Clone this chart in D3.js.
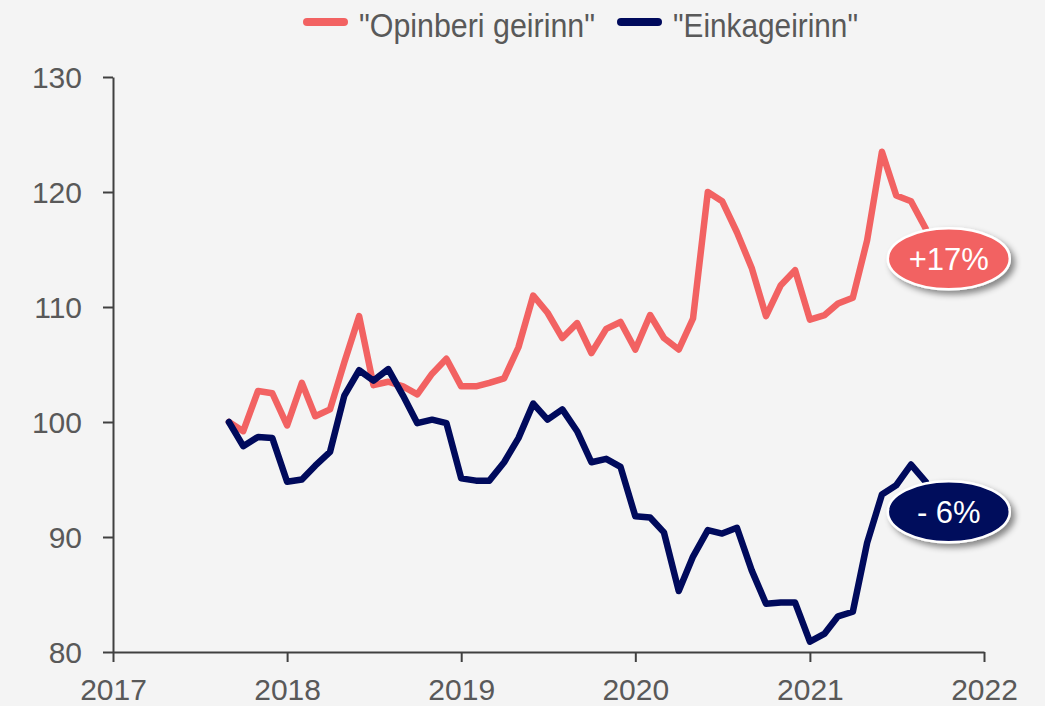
<!DOCTYPE html>
<html>
<head>
<meta charset="utf-8">
<script src="https://cdn.jsdelivr.net/npm/d3@7"></script>
<style>
  body { margin: 0; background: #f4f4f4; }
  svg { display: block; font-family: "Liberation Sans", Arial, sans-serif; }
</style>
</head>
<body>
<div id="chart"></div>
<script>
// monthly index values, Sep 2017 - Sep 2021 (Sep 2017 = 100)
var startYear = 2017
var startMonth = 8
var opinberi = [100.0, 99.2, 102.7, 102.5, 99.7, 103.4, 100.5, 101.1, 105.2, 109.2, 103.2, 103.5,
  103.1, 102.4, 104.2, 105.5, 103.1, 103.1, 103.4, 103.8, 106.5, 111.0, 109.5, 107.3,
  108.6, 106.0, 108.1, 108.7, 106.3, 109.3, 107.3, 106.3, 109.0, 120.0, 119.2, 116.5,
  113.4, 109.2, 111.9, 113.2, 108.9, 109.3, 110.3, 110.8, 115.8, 123.5, 119.7, 119.2, 116.8]
var einka = [100.0, 97.9, 98.7, 98.6, 94.8, 95.0, 96.2, 97.4, 102.3, 104.5, 103.6, 104.6,
  102.3, 99.9, 100.2, 99.9, 95.1, 94.9, 94.9, 96.5, 98.6, 101.6, 100.2, 101.1,
  99.2, 96.5, 96.8, 96.1, 91.8, 91.7, 90.4, 85.3, 88.3, 90.6, 90.3, 90.8,
  87.1, 84.2, 84.3, 84.3, 80.9, 81.6, 83.1, 83.5, 89.5, 93.7, 94.5, 96.3, 94.8]
var seriesNames = ['"Opinberi geirinn"', '"Einkageirinn"']
var seriesColors = ["#f26262", "#000a5c"]
var changeLabels = ["+17%", "- 6%"]
var yTicks = [80, 90, 100, 110, 120, 130]
var years = [2017, 2018, 2019, 2020, 2021, 2022]

var width = 1045
var height = 706

var svg = d3.select("#chart").append("svg")
    .attr("width", width)
    .attr("height", height)

svg.append("rect").attr("width", width).attr("height", height).attr("fill", "#f4f4f4")

var defs = svg.append("defs")
var f = defs.append("filter").attr("id", "shadow").attr("x", "-20%").attr("y", "-20%").attr("width", "150%").attr("height", "160%")
f.append("feDropShadow").attr("dx", 4).attr("dy", 4).attr("stdDeviation", 3)
  .attr("flood-color", "#000").attr("flood-opacity", 0.45)

var x = d3.scaleTime()
    .domain([new Date(years[0], 0, 1), new Date(years[years.length - 1], 0, 1)])
    .range([113, 984])
var y = d3.scaleLinear()
    .domain([80, 130])
    .range([652, 77])

function toPoints(vals) {
  return vals.map(function(v, i) {
    return { date: new Date(startYear, startMonth + i, 1), value: v }
  })
}
var series = [toPoints(opinberi), toPoints(einka)]

// axes
var yAxis = svg.append("g")
    .attr("transform", "translate(113,0)")
    .call(d3.axisLeft(y).tickValues(yTicks).tickSize(10).tickPadding(21).tickSizeOuter(0))
var xAxis = svg.append("g")
    .attr("transform", "translate(0,652)")
    .call(d3.axisBottom(x).tickValues(years.map(function(d){ return new Date(d, 0, 1) }))
      .tickFormat(d3.timeFormat("%Y")).tickSize(10).tickPadding(17).tickSizeOuter(0))

svg.selectAll(".domain, .tick line").attr("stroke", "#404040").attr("stroke-width", 2)
yAxis.selectAll("text").attr("font-size", 30).attr("fill", "#595959").attr("dy", "0.35em")
xAxis.selectAll("text").attr("font-size", 30).attr("fill", "#595959")
// x labels sit right at the bottom edge
xAxis.selectAll(".tick text").attr("y", 27).attr("dy", "0.71em")

var line = d3.line()
    .x(function(d) { return x(d.date) })
    .y(function(d) { return y(d.value) })

series.forEach(function(s, i) {
  svg.append("path")
    .datum(s)
    .attr("d", line)
    .attr("fill", "none")
    .attr("stroke", seriesColors[i])
    .attr("stroke-width", 6.5)
    .attr("stroke-linejoin", "round")
    .attr("stroke-linecap", "round")
})

// end labels
series.forEach(function(s, i) {
  var last = s[s.length - 1]
  var cx = x(last.date) + 23
  var cy = y(last.value) + 30
  var g = svg.append("g").attr("transform", "translate(" + cx + "," + cy + ")")
  g.append("ellipse")
    .attr("rx", 61).attr("ry", 30.5)
    .attr("fill", seriesColors[i])
    .attr("stroke", "#fff").attr("stroke-width", 2.5)
    .attr("filter", "url(#shadow)")
  g.append("text")
    .attr("text-anchor", "middle")
    .attr("dy", "0.36em")
    .attr("font-size", 31)
    .attr("fill", "#fff")
    .text(changeLabels[i])
})

// legend
var legendX = [303, 617]
var legendW = [236, 185]
seriesNames.forEach(function(n, i) {
  var lg = svg.append("g").attr("transform", "translate(" + legendX[i] + ",22)")
  lg.append("line")
    .attr("x1", 4).attr("x2", 41)
    .attr("stroke", seriesColors[i])
    .attr("stroke-width", 8)
    .attr("stroke-linecap", "round")
  lg.append("text")
    .attr("x", 56)
    .attr("y", 15)
    .attr("font-size", 33)
    .attr("fill", "#595959")
    .attr("textLength", legendW[i])
    .attr("lengthAdjust", "spacingAndGlyphs")
    .text(n)
})
</script>
</body>
</html>
